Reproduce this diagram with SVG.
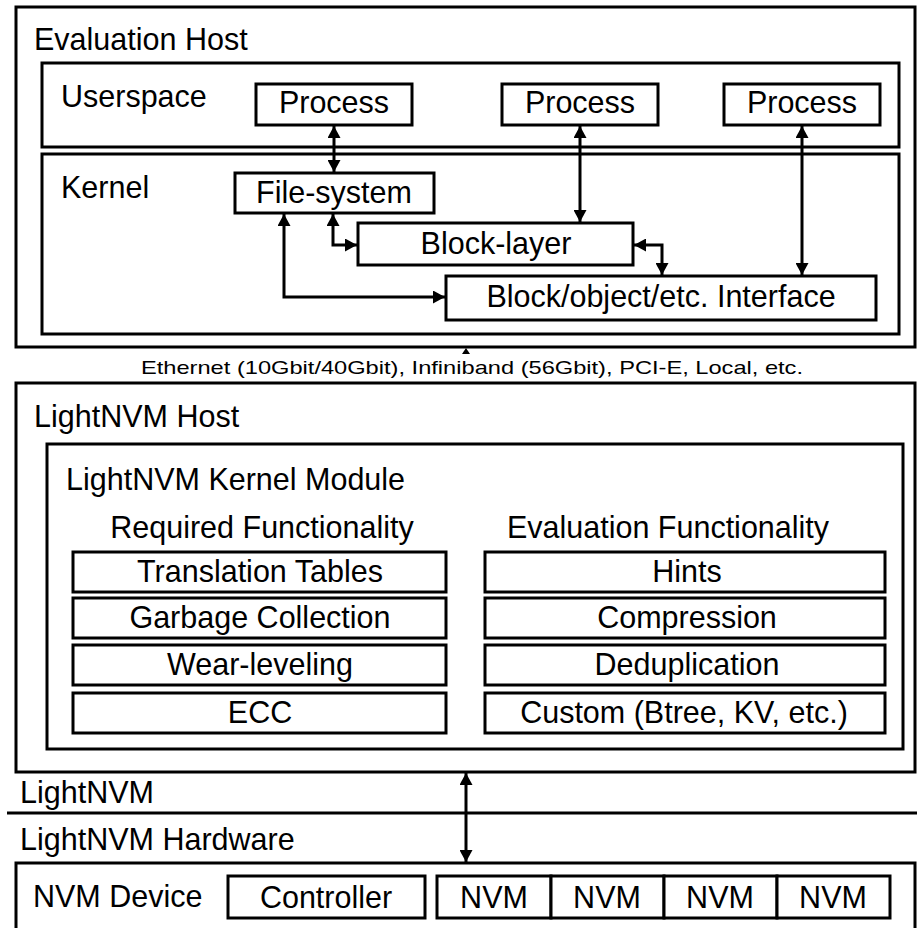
<svg xmlns="http://www.w3.org/2000/svg" width="917" height="928" viewBox="0 0 917 928">
<style>
.box{fill:#fff;stroke:#000;stroke-width:3}
.t{font-family:"Liberation Sans",Arial,sans-serif;font-size:30.5px;fill:#000}
.c{text-anchor:middle}
.con{fill:none;stroke:#000;stroke-width:3;marker-start:url(#ah);marker-end:url(#ah)}
</style>
<defs>
<marker id="ah" markerUnits="userSpaceOnUse" markerWidth="13" markerHeight="13" refX="12" refY="6.5" orient="auto-start-reverse">
<path d="M0,0 L12,6.5 L0,13 z" fill="#000"/>
</marker>
</defs>
<rect width="917" height="928" fill="#fff"/>
<g id="evaluation-host">
<rect class="box" x="16" y="7" width="899" height="340"/>
<text class="t" x="34" y="50">Evaluation Host</text>
</g>
<g id="userspace">
<rect class="box" x="42" y="63" width="857" height="84"/>
<text class="t" x="61" y="107">Userspace</text>
</g>
<g id="kernel">
<rect class="box" x="42" y="154" width="857" height="180"/>
<text class="t" x="61" y="198">Kernel</text>
</g>
<g id="process1"><rect class="box" x="256" y="84" width="156" height="41"/><text class="t c" x="334" y="113">Process</text></g>
<g id="process2"><rect class="box" x="502" y="84" width="156" height="41"/><text class="t c" x="580" y="113">Process</text></g>
<g id="process3"><rect class="box" x="724" y="84" width="156" height="41"/><text class="t c" x="802" y="113">Process</text></g>
<g id="file-system"><rect class="box" x="235" y="173" width="199" height="40"/><text class="t c" x="334" y="203">File-system</text></g>
<g id="block-layer"><rect class="box" x="358" y="223" width="275" height="42"/><text class="t c" x="496" y="254">Block-layer</text></g>
<g id="interface"><rect class="box" x="446" y="276" width="430" height="44"/><text class="t c" x="661" y="307">Block/object/etc. Interface</text></g>

<g id="transport-label">
<text x="472" y="374" text-anchor="middle" font-family="Liberation Sans, Arial, sans-serif" font-size="19" textLength="662" lengthAdjust="spacingAndGlyphs">Ethernet (10Gbit/40Gbit), Infiniband (56Gbit), PCI-E, Local, etc.</text>
</g>

<g id="lightnvm-host">
<rect class="box" x="16" y="383" width="899" height="389"/>
<text class="t" x="34" y="427">LightNVM Host</text>
</g>
<g id="kernel-module">
<rect class="box" x="47" y="444" width="856" height="305"/>
<text class="t" x="66" y="490">LightNVM Kernel Module</text>
<text class="t c" x="262" y="538">Required Functionality</text>
<text class="t c" x="668" y="538">Evaluation Functionality</text>
</g>
<g id="translation-tables"><rect class="box" x="73" y="552" width="373" height="40"/><text class="t c" x="260" y="582">Translation Tables</text></g>
<g id="garbage-collection"><rect class="box" x="73" y="598" width="373" height="40"/><text class="t c" x="260" y="628">Garbage Collection</text></g>
<g id="wear-leveling"><rect class="box" x="73" y="645" width="373" height="40"/><text class="t c" x="260" y="675">Wear-leveling</text></g>
<g id="ecc"><rect class="box" x="73" y="693" width="373" height="40"/><text class="t c" x="260" y="723">ECC</text></g>
<g id="hints"><rect class="box" x="485" y="552" width="400" height="40"/><text class="t c" x="687" y="582">Hints</text></g>
<g id="compression"><rect class="box" x="485" y="598" width="400" height="40"/><text class="t c" x="687" y="628">Compression</text></g>
<g id="deduplication"><rect class="box" x="485" y="645" width="400" height="40"/><text class="t c" x="687" y="675">Deduplication</text></g>
<g id="custom"><rect class="box" x="485" y="693" width="400" height="40"/><text class="t c" x="684" y="723">Custom (Btree, KV, etc.)</text></g>

<g id="lightnvm-layer">
<text class="t" x="20" y="803">LightNVM</text>
<line x1="7" y1="813" x2="917" y2="813" stroke="#000" stroke-width="3"/>
<text class="t" x="20" y="850">LightNVM Hardware</text>
</g>

<g id="nvm-device">
<rect class="box" x="16" y="863" width="899" height="80"/>
<text class="t" x="33" y="907">NVM Device</text>
</g>
<g id="controller"><rect class="box" x="228" y="876" width="197" height="42"/><text class="t c" x="326" y="908">Controller</text></g>
<g id="nvm1"><rect class="box" x="437" y="876" width="114" height="42"/><text class="t c" x="494" y="908">NVM</text></g>
<g id="nvm2"><rect class="box" x="551" y="876" width="113" height="42"/><text class="t c" x="607" y="908">NVM</text></g>
<g id="nvm3"><rect class="box" x="664" y="876" width="113" height="42"/><text class="t c" x="720" y="908">NVM</text></g>
<g id="nvm4"><rect class="box" x="777" y="876" width="113" height="42"/><text class="t c" x="833" y="908">NVM</text></g>

<g id="connectors">
<path class="con" d="M334,126 V172"/>
<path class="con" d="M580,126 V222"/>
<path class="con" d="M802,126 V275"/>
<path class="con" d="M333,214 V245 H357"/>
<path class="con" d="M634,245 H662 V275"/>
<path class="con" d="M284,214 V297 H445"/>
<path class="con" d="M466,773 V862"/>
<path d="M462,354 L466,348 L470,354 z" fill="#000"/>
</g>
</svg>
